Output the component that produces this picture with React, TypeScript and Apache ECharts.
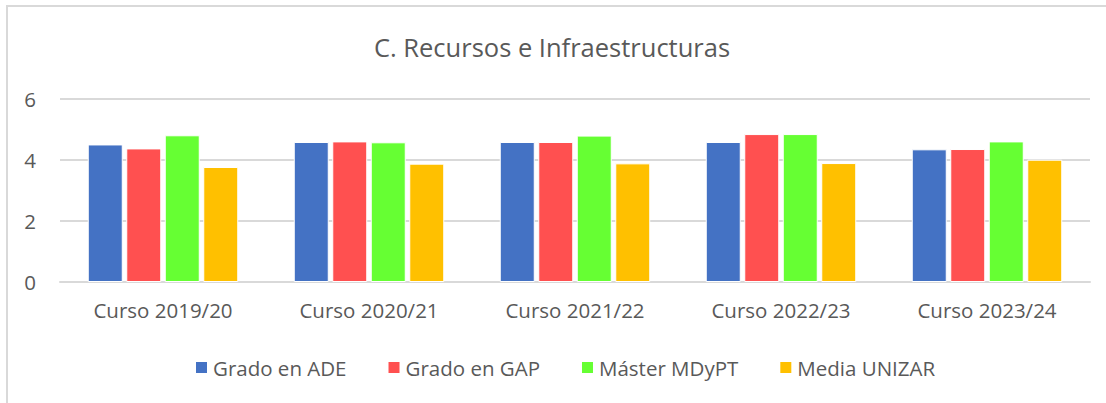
import React, { useEffect, useRef } from "react";
import * as echarts from "echarts";

const categories = ["Curso 2019/20", "Curso 2020/21", "Curso 2021/22", "Curso 2022/23", "Curso 2023/24"];
const seriesNames = ["Grado en ADE", "Grado en GAP", "Máster MDyPT", "Media UNIZAR"];
const gradoADE = [4.51, 4.59, 4.59, 4.59, 4.35];
const gradoGAP = [4.38, 4.61, 4.59, 4.85, 4.36];
const masterMDyPT = [4.81, 4.58, 4.8, 4.85, 4.61];
const mediaUNIZAR = [3.77, 3.88, 3.89, 3.9, 4.01];
const yTicks = { min: 0, max: 6, interval: 2 };
const colors = ["#4472C4", "#FF5050", "#66FF33", "#FFC000"];

const FONT = "'Open Sans', sans-serif";

export default function App() {
  const ref = useRef<HTMLDivElement>(null);
  useEffect(() => {
    if (!ref.current) return;
    const chart = echarts.init(ref.current, null, { renderer: "svg" });
    const values = [gradoADE, gradoGAP, masterMDyPT, mediaUNIZAR];
    chart.setOption({
      animation: false,
      backgroundColor: "#ffffff",
      textStyle: { fontFamily: FONT },
      title: {
        text: "C. Recursos e Infraestructuras",
        left: 547,
        textAlign: "center",
        top: 29,
        textStyle: { fontFamily: FONT, fontSize: 25.5, fontWeight: "normal", color: "#595959" },
      },
      graphic: [
        {
          type: "rect",
          shape: { x: 7, y: 6, width: 1300, height: 600 },
          style: { fill: "none", stroke: "#d9d9d9", lineWidth: 2 },
          silent: true,
        },
      ],
      legend: {
        data: seriesNames,
        top: 352,
        left: 189,
        itemWidth: 13,
        itemHeight: 13,
        itemGap: 40,
        icon: "rect",
        textStyle: { fontFamily: FONT, fontSize: 20.5, color: "#595959", padding: [0, 0, 0, 0] },
      },
      grid: { left: 60, right: 16, top: 99, bottom: 121, containLabel: false },
      xAxis: {
        type: "category",
        data: categories,
        axisLine: { show: true, lineStyle: { color: "#d9d9d9", width: 2 } },
        axisTick: { show: false },
        axisLabel: { fontFamily: FONT, fontSize: 20.5, color: "#595959", margin: 17 },
      },
      yAxis: {
        type: "value",
        min: yTicks.min,
        max: yTicks.max,
        interval: yTicks.interval,
        axisLine: { show: false },
        axisTick: { show: false },
        splitLine: { lineStyle: { color: "#d9d9d9", width: 2 } },
        axisLabel: { fontFamily: FONT, fontSize: 20.5, color: "#595959", margin: 24 },
      },
      series: seriesNames.map((name, i) => ({
        name,
        type: "bar",
        data: values[i],
        barWidth: 35,
        barGap: "10%",
        itemStyle: { color: colors[i], borderColor: "#ffffff", borderWidth: 1 },
      })),
    });
    return () => chart.dispose();
  }, []);
  return (
    <div
      ref={ref}
      style={{ position: "fixed", left: 0, top: 0, width: 1106, height: 403 }}
    />
  );
}
